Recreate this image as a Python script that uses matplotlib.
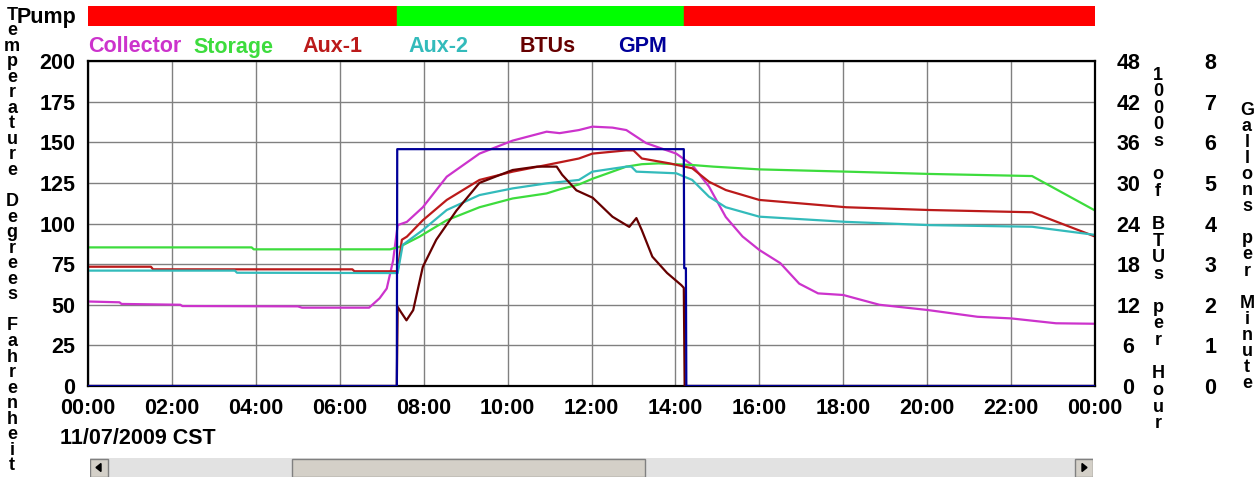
import matplotlib
matplotlib.use('Agg')
import matplotlib.pyplot as plt
from matplotlib.patches import Rectangle, Polygon

W, H = 1260, 483
plt.rcParams['font.family'] = ['Liberation Sans', 'DejaVu Sans']
plt.rcParams['font.weight'] = 'bold'

# ---- data (hours since midnight, 11/07/2009) ----
tick_hours = list(range(0, 25, 2))
tick_labels = ['00:00', '02:00', '04:00', '06:00', '08:00', '10:00', '12:00',
               '14:00', '16:00', '18:00', '20:00', '22:00', '00:00']
temp_ticks = [0, 25, 50, 75, 100, 125, 150, 175, 200]
btu_ticks = [0, 6, 12, 18, 24, 30, 36, 42, 48]
gpm_ticks = [0, 1, 2, 3, 4, 5, 6, 7, 8]

pump_on = 7.36
pump_off = 14.2

collector_t = [0, 0.75, 0.8, 2.2, 2.25, 5.0, 5.1, 6.7, 6.95, 7.12, 7.27, 7.38, 7.6,
               7.98, 8.55, 9.33, 10.12, 10.93, 11.24, 11.7, 12.02, 12.5, 12.83, 13.3,
               14.02, 14.4, 14.8, 15.2, 15.6, 16.0, 16.5, 16.95, 17.4, 18.0, 18.86,
               20.0, 21.2, 22.0, 23.07, 24]
collector = [52, 51.5, 50.5, 50, 49.2, 49, 48.2, 48.2, 54, 60, 77, 99, 101,
             110, 128.8, 143, 151, 156.5, 155.6, 157.5, 159.6, 159, 157.5, 149.5,
             143, 136, 122.7, 104, 92, 83.7, 75.6, 63, 57, 56, 50,
             46.8, 42.6, 41.6, 38.6, 38.3]

storage_t = [0, 3.9, 3.95, 7.2, 7.43, 7.9, 8.55, 9.33, 10.12, 10.93, 11.24, 11.7,
             12.02, 12.4, 12.83, 13.2, 13.6, 14.4, 14.9, 16.0, 18.1, 20.05, 22.5, 24]
storage = [85.3, 85.3, 84.1, 84.1, 85.7, 91.9, 102, 110, 115.4, 118.5, 121, 124,
           127.5, 131, 135, 136.5, 137, 136, 135, 133.3, 131.9, 130.5, 129.2, 108]

aux1_t = [0, 1.5, 1.55, 6.3, 6.35, 7.38, 7.48, 7.6, 7.98, 8.55, 9.33, 10.12, 10.93,
          11.7, 12.02, 12.83, 13.0, 13.2, 13.86, 14.4, 14.8, 15.2, 16.0, 18.07,
          20.05, 22.5, 24]
aux1 = [73.4, 73.4, 71.8, 71.8, 70.6, 70.6, 90, 91.9, 102, 114.5, 126.8, 131.9, 136,
        140, 143, 145, 145, 140, 137, 134, 125.7, 120.6, 114.5, 110,
        108.3, 106.9, 92]

aux2_t = [0, 3.5, 3.55, 7.38, 7.5, 7.98, 8.55, 9.33, 10.12, 10.93, 11.7, 12.02,
          12.83, 12.95, 13.07, 14.02, 14.4, 14.8, 15.2, 16.0, 18.07, 20.05, 22.5, 24]
aux2 = [71, 71, 69.7, 69.5, 86.8, 96, 108.3, 117.5, 121.6, 124.7, 126.8, 131.9,
        135, 135, 131.9, 130.9, 126.8, 116.5, 110, 104.2, 101, 99, 98, 93]

# thousands of BTU per hour
btu_t = [0, 7.36, 7.38, 7.45, 7.59, 7.75, 7.98, 8.3, 8.78, 9.33, 10.12, 10.7, 11.17,
         11.3, 11.64, 12.03, 12.5, 12.9, 13.07, 13.2, 13.45, 13.8, 14.14, 14.2,
         14.22, 24]
btu = [0, 0, 11.7, 11.0, 9.7, 11.2, 17.6, 21.6, 25.9, 30.0, 31.9, 32.4, 32.4,
       31.2, 28.9, 27.8, 25.0, 23.5, 24.8, 23.0, 19.1, 16.7, 14.9, 14.5,
       0, 0]

gpm_t = [0, 7.36, 7.37, 14.2, 14.21, 14.25, 14.26, 24]
gpm = [0, 0, 5.83, 5.83, 2.9, 2.9, 0, 0]

series_names = ['Collector', 'Storage', 'Aux-1', 'Aux-2', 'BTUs', 'GPM']
series_colors = ['#cc33cc', '#3ddc3d', '#bb1a1a', '#33bbbb', '#660000', '#000099']


def fx(x):
    return x / W


def fy(y):
    return 1 - y / H


fig = plt.figure(figsize=(12.6, 4.83), dpi=100)

# main plot
ax = fig.add_axes([fx(88), fy(386), fx(1095) - fx(88), fy(61) - fy(386)])
ax.set_xlim(0, 24)
ax.set_ylim(0, 200)
ax.set_xticks(tick_hours)
ax.set_xticklabels(tick_labels, fontsize=15.5, fontweight='bold')
ax.set_yticks(temp_ticks)
ax.set_yticklabels([str(v) for v in temp_ticks], fontsize=15.5, fontweight='bold')
ax.tick_params(length=0, axis='x', pad=9)
ax.tick_params(length=0, axis='y', pad=9)
ax.grid(True, color='#808080', linewidth=1)
for s in ax.spines.values():
    s.set_color('black')
    s.set_linewidth(1.6)

ax.plot(collector_t, collector, color=series_colors[0], lw=1.6)
ax.plot(storage_t, storage, color=series_colors[1], lw=1.6)
ax.plot(aux1_t, aux1, color=series_colors[2], lw=1.6)
ax.plot(aux2_t, aux2, color=series_colors[3], lw=1.6)

# BTU axis
ax2 = ax.twinx()
ax2.set_ylim(0, 48)
ax2.set_yticks(btu_ticks)
ax2.set_yticklabels([str(v) for v in btu_ticks], fontsize=15.5,
                    fontweight='bold', ha='center')
ax2.tick_params(length=0, pad=24)
for s in ax2.spines.values():
    s.set_visible(False)
ax2.plot(btu_t, btu, color=series_colors[4], lw=1.6)

# GPM axis
ax3 = ax.twinx()
ax3.set_ylim(0, 8)
ax3.set_yticks(gpm_ticks)
ax3.set_yticklabels([str(v) for v in gpm_ticks], fontsize=15.5,
                    fontweight='bold', ha='center')
ax3.tick_params(length=0, pad=83)
for s in ax3.spines.values():
    s.set_visible(False)
ax3.plot(gpm_t, gpm, color=series_colors[5], lw=1.6)

# pump status bar
bar = fig.add_axes([fx(88), fy(26), fx(1095) - fx(88), 20 / H])
bar.set_xlim(0, 24)
bar.set_ylim(0, 1)
bar.axvspan(0, pump_on, color='#ff0000')
bar.axvspan(pump_on, pump_off, color='#00ff00')
bar.axvspan(pump_off, 24, color='#ff0000')
bar.axis('off')
fig.text(fx(17), fy(17), 'Pump', fontsize=15.5, fontweight='bold',
         ha='left', va='center')

# legend row
legend_x = [88, 193, 302, 408, 520, 618]
for name, col, x in zip(series_names, series_colors, legend_x):
    fig.text(fx(x), fy(47), name, color=col, fontsize=15.5, fontweight='bold',
             ha='left', va='center')

fig.text(fx(60), fy(438), '11/07/2009 CST', fontsize=15.5, fontweight='bold',
         ha='left', va='center')


# stacked vertical axis titles
def stacked(text, x, y0, step):
    for i, ch in enumerate(text):
        if ch == ' ':
            continue
        fig.text(fx(x), fy(y0 + i * step), ch, fontsize=13, fontweight='bold',
                 ha='center', va='center')


stacked('Temperature Degrees Fahrenheit', 12, 15, 15.55)
stacked('1000s of BTUs per Hour', 1158, 75, 16.6)
stacked('Gallons per Minute', 1247, 110, 16.1)

# scrollbar
sb = fig.add_axes([fx(90), fy(477), fx(1093) - fx(90), 19 / H])
sb.set_xlim(0, 1003)
sb.set_ylim(0, 19)
sb.axis('off')
sb.add_patch(Rectangle((0, 0), 1003, 19, facecolor='#e2e2e2', edgecolor='none'))
for x0, x1 in [(0, 18), (985, 1003), (202, 555)]:
    sb.add_patch(Rectangle((x0, 0.5), x1 - x0, 18, facecolor='#d4d0c8',
                           edgecolor='#808080', lw=1))
sb.add_patch(Polygon([[6, 9.5], [11, 5.5], [11, 13.5]], color='black'))
sb.add_patch(Polygon([[997, 9.5], [992, 5.5], [992, 13.5]], color='black'))

fig.savefig('out.png', dpi=100)
